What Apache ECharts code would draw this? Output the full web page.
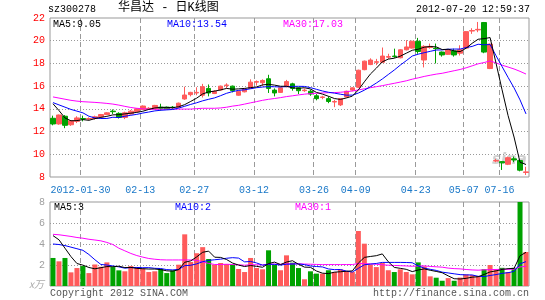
<!DOCTYPE html>
<html><head><meta charset="utf-8">
<script src="https://cdn.jsdelivr.net/npm/echarts@6/dist/echarts.min.js"></script>
<style>html,body{margin:0;padding:0;background:#fff}#c{width:545px;height:300px}</style>
</head><body><div id="c"></div>
<script>
// ---- data ----
const dates = [
 '2012-01-16','2012-01-17','2012-01-18','2012-01-19','2012-01-20',
 '2012-01-30','2012-01-31','2012-02-01','2012-02-02','2012-02-03','2012-02-06','2012-02-07','2012-02-08','2012-02-09','2012-02-10',
 '2012-02-13','2012-02-14','2012-02-15','2012-02-16','2012-02-17','2012-02-20','2012-02-21','2012-02-22','2012-02-23',
 '2012-02-27','2012-02-28','2012-02-29','2012-03-01','2012-03-02','2012-03-05','2012-03-06','2012-03-07','2012-03-08','2012-03-09',
 '2012-03-12','2012-03-13','2012-03-14','2012-03-15','2012-03-16','2012-03-19','2012-03-20','2012-03-21','2012-03-22','2012-03-23',
 '2012-03-26','2012-03-27','2012-03-28','2012-03-29','2012-03-30','2012-04-05','2012-04-06',
 '2012-04-09','2012-04-10','2012-04-11','2012-04-12','2012-04-13','2012-04-16','2012-04-17','2012-04-18','2012-04-19','2012-04-20',
 '2012-04-23','2012-04-24','2012-04-25','2012-04-26','2012-04-27','2012-05-02','2012-05-03','2012-05-04',
 '2012-05-07','2012-05-08','2012-05-09','2012-05-10','2012-05-11',
 '2012-07-13',
 '2012-07-16','2012-07-17','2012-07-18','2012-07-19','2012-07-20'
];
const opens  = [13.17,12.67,13.35,12.6,12.9,13.15,13.1,13.15,13.3,13.5,13.8,13.6,13.25,13.55,13.75,13.95,14.0,14.0,14.15,14.15,
 14.15,14.15,14.87,15.25,15.4,15.2,15.8,15.35,15.66,16.05,16.0,15.2,15.5,15.8,16.35,16.3,16.65,15.65,15.45,15.95,
 16.2,15.85,15.6,15.55,15.15,15.0,14.9,14.6,14.35,15.05,15.65,15.9,17.45,17.9,18.1,18.1,18.55,18.65,18.5,19.2,
 19.35,19.95,18.3,19.4,19.35,19.0,18.8,19.1,18.9,19.35,20.85,20.95,21.6,17.55,9.4,9.35,9.12,9.6,9.45,8.4];
const closes = [12.67,13.46,12.55,12.95,13.2,13.1,13.15,13.3,13.5,13.65,13.75,13.25,13.65,13.8,14.0,14.25,14.05,14.3,14.05,14.0,
 14.1,14.5,15.22,15.45,15.45,15.95,15.4,15.55,16.0,16.1,15.6,15.55,15.75,16.35,16.4,16.5,15.8,15.4,15.85,16.4,
 15.8,15.6,15.65,15.3,14.9,15.05,14.65,14.65,14.9,15.55,15.85,17.4,18.2,18.3,18.15,18.65,18.6,18.6,19.2,19.45,
 19.95,19.05,19.5,19.5,19.3,18.75,19.2,18.75,19.2,20.8,20.9,21.0,19.0,19.7,9.45,9.25,9.7,9.5,8.6,8.45];
const lows   = [12.55,12.6,12.3,12.5,12.75,12.9,13.0,13.05,13.25,13.45,13.55,13.15,13.1,13.5,13.7,13.9,13.9,13.95,13.85,13.95,
 14.0,14.1,14.8,15.1,15.2,15.0,15.1,15.3,15.6,15.8,15.45,15.15,15.45,15.75,16.05,16.0,15.4,15.1,15.4,15.9,
 15.6,15.3,15.5,15.15,14.75,14.85,14.5,14.15,14.25,15.0,15.55,15.85,17.4,17.85,17.85,18.05,18.4,18.5,18.45,19.15,
 19.3,18.85,17.65,19.3,18.0,18.6,18.75,18.6,18.7,19.3,20.6,20.75,18.9,17.5,9.3,8.62,9.05,9.3,8.5,8.18];
const highs  = [13.4,13.5,13.45,13.0,13.35,13.4,13.25,13.4,13.55,13.7,13.95,13.7,13.75,13.9,14.05,14.3,14.15,14.35,14.45,14.2,
 14.25,14.55,15.95,15.5,15.9,16.2,16.15,15.65,16.05,16.25,16.05,15.6,15.8,16.6,16.5,16.6,17.0,15.8,15.9,16.55,
 16.3,15.9,15.8,15.7,15.3,15.15,15.1,14.8,14.95,15.6,15.9,17.45,18.25,18.45,18.4,19.4,18.85,19.3,19.25,20.05,
 20.0,20.25,19.6,19.75,19.75,19.05,19.25,19.3,19.6,20.85,21.1,21.65,21.65,19.75,9.6,9.4,9.8,9.8,9.5,8.9];
const volumes = [2.67,2.35,2.67,1.3,1.71,1.9,1.23,2.05,1.83,2.25,1.8,1.49,1.4,1.9,1.8,1.65,1.33,1.4,1.62,1.23,
 1.49,2.03,4.92,2.29,3.12,3.7,2.57,2.03,2.19,2.1,2.03,1.62,1.33,2.67,1.71,1.59,3.4,2.0,1.5,2.92,
 2.22,1.71,0.64,1.4,1.18,1.18,1.5,1.33,1.59,1.43,1.33,5.24,4.03,2.03,1.8,2.19,1.5,1.33,1.59,1.33,
 1.11,2.25,1.87,0.92,0.79,0.5,0.75,0.5,0.8,1.1,1.05,0.95,1.6,2.0,1.6,1.73,1.33,1.73,8.0,3.24];
// moving-average values at the left edge (history before the window)
const ma5Lead  = [14.45,13.85,13.2,12.95];
const ma10Lead = [14.55,14.35,14.15,13.95,13.8,13.65,13.35,13.2,13.15];
const ma30Lead = [15.05,14.95,14.85,14.75,14.68,14.63,14.6,14.57,14.53,14.48,14.42,14.33,14.22,14.12,14.05,14.0,13.97,13.96,13.96,13.97,
 13.98,13.98,13.98,13.98,14.02,14.05,14.05,14.05,14.08];
const vma5Lead  = [4.8,4.4,3.6,2.8];
const vma10Lead = [4.0,3.95,3.85,3.7,3.55,3.4,3.0,2.5,2.05];
const vma30Lead = [4.92,4.88,4.8,4.72,4.62,4.55,4.45,4.38,4.3,4.15,3.95,3.6,3.35,3.1,2.9,2.75,2.62,2.55,2.5,2.48,
 2.48,2.48,2.48,2.48,2.45,2.3,2.15,2.05,2.05];
const tickDates = ['2012-01-30','2012-02-13','2012-02-27','2012-03-12','2012-03-26','2012-04-09','2012-04-23','2012-05-07','2012-07-16'];
const tickLabels = ['2012-01-30','02-13','02-27','03-12','03-26','04-09','04-23','05-07','07-16'];
const priceTicks = [8,22,2];
const volTicks = [0,8,2];
const maLabels = ['MA5:9.05','MA10:13.54','MA30:17.03'];
const volMaLabels = ['MA5:3','MA10:2','MA30:1'];
const headerTexts = ['sz300278','华昌达 - 日K线图','2012-07-20 12:59:37'];
const footerTexts = ['Copyright 2012 SINA.COM','http://finance.sina.com.cn','x万'];

// ---- build ----
function movingAvg(vals, n, lead){
  return vals.map((v,i)=>{
    if(i < n-1) return lead[i];
    let s=0; for(let k=i-n+1;k<=i;k++) s+=vals[k];
    return +(s/n).toFixed(3);
  });
}
const RED='#ff5b5b', GREEN='#00a200';
const tickIdx = tickDates.map(d=>dates.indexOf(d));
const tickSet = new Set(tickIdx);
const labelMap = {}; tickDates.forEach((d,i)=>labelMap[d]=tickLabels[i]);
const kData = dates.map((d,i)=>[opens[i],closes[i],lows[i],highs[i]]);
const volData = volumes.map((v,i)=>({value:v,itemStyle:{color: closes[i]>=opens[i]?RED:GREEN}}));
const MONO='"Liberation Mono","DejaVu Sans Mono",monospace';

function hSplit(){ return {show:true, showMinLine:false, showMaxLine:false, lineStyle:{color:'#999', width:1, type:[1,2]}}; }

function lineSeries(name, data, color, xi){
  return {name, type:'line', data, xAxisIndex:xi, yAxisIndex:xi, symbol:'none', smooth:false,
    lineStyle:{color, width:1}, itemStyle:{color}, silent:true, z:5};
}

const chart = echarts.init(document.getElementById('c'));
chart.setOption({
  animation:false,
  backgroundColor:'#fff',
  grid:[
    {left:50, top:18, width:479, height:159, show:true, borderColor:'#999', borderWidth:1},
    {left:50, top:202, width:479, height:84, show:true, borderColor:'#999', borderWidth:1}
  ],
  xAxis:[
    {type:'category', gridIndex:0, data:dates, boundaryGap:true,
     axisLine:{show:false}, axisTick:{show:false},
     axisLabel:{interval:(i)=>tickSet.has(i), formatter:(v)=>labelMap[v]||'', color:'#1a78c8',
       fontFamily:MONO, fontSize:10, margin:8, padding:[0,5,0,0]},
     splitLine:{show:false}},
    {type:'category', gridIndex:1, data:dates, boundaryGap:true,
     axisLine:{show:false}, axisTick:{show:false}, axisLabel:{show:false}, splitLine:{show:false}}
  ],
  yAxis:[
    {type:'value', gridIndex:0, min:priceTicks[0], max:priceTicks[1], interval:priceTicks[2],
     axisLine:{show:false}, axisTick:{show:false},
     axisLabel:{color:'#ff0000', fontFamily:MONO, fontSize:10, margin:5},
     splitLine:hSplit()},
    {type:'value', gridIndex:1, min:volTicks[0], max:volTicks[1], interval:volTicks[2],
     axisLine:{show:false}, axisTick:{show:false},
     axisLabel:{color:'#a0a0a0', fontFamily:MONO, fontSize:10, margin:5, formatter:(v)=>v===0?'':String(v)},
     splitLine:hSplit()}
  ],
  series:[
    {name:'K', type:'candlestick', data:kData, xAxisIndex:0, yAxisIndex:0, barWidth:5,
     itemStyle:{color:RED, color0:GREEN, borderColor:RED, borderColor0:GREEN, borderWidth:1}, z:3},
    lineSeries('MA30', movingAvg(closes,30,ma30Lead), '#ff00ff', 0),
    lineSeries('MA10', movingAvg(closes,10,ma10Lead), '#0000ff', 0),
    lineSeries('MA5', movingAvg(closes,5,ma5Lead), '#000000', 0),
    {name:'VOL', type:'bar', data:volData, xAxisIndex:1, yAxisIndex:1, barWidth:5, z:3},
    lineSeries('VMA30', movingAvg(volumes,30,vma30Lead), '#ff00ff', 1),
    lineSeries('VMA10', movingAvg(volumes,10,vma10Lead), '#0000ff', 1),
    lineSeries('VMA5', movingAvg(volumes,5,vma5Lead), '#000000', 1)
  ]
});

const texts = [
  {type:'text', left:48, top:4, style:{text:headerTexts[0], font:'10px '+MONO, fill:'#000'}},
  {type:'text', left:118, top:2, style:{text:headerTexts[1], font:'12px "Liberation Mono","Noto Sans CJK SC"', fill:'#000'}},
  {type:'text', right:15, top:4, style:{text:headerTexts[2], font:'10px '+MONO, fill:'#000'}},
  {type:'text', left:53, top:19, style:{text:maLabels[0], font:'10px '+MONO, fill:'#000'}},
  {type:'text', left:167, top:19, style:{text:maLabels[1], font:'10px '+MONO, fill:'#0000ff'}},
  {type:'text', left:283, top:19, style:{text:maLabels[2], font:'10px '+MONO, fill:'#ff00ff'}},
  {type:'text', left:54, top:202, style:{text:volMaLabels[0], font:'10px '+MONO, fill:'#000'}},
  {type:'text', left:175, top:202, style:{text:volMaLabels[1], font:'10px '+MONO, fill:'#0000ff'}},
  {type:'text', left:295, top:202, style:{text:volMaLabels[2], font:'10px '+MONO, fill:'#ff00ff'}},
  {type:'text', left:50, top:288, style:{text:footerTexts[0], font:'10px '+MONO, fill:'#555'}},
  {type:'text', right:16, top:288, style:{text:footerTexts[1], font:'10px '+MONO, fill:'#555'}},
  {type:'text', left:29, top:279, style:{text:footerTexts[2], font:'italic 10px "Noto Sans CJK SC"', fill:'#aaa'}},
  {type:'text', left:492, top:153, style:{text:'sina', font:'italic bold 15px "DejaVu Sans"', fill:'rgba(170,170,170,0.55)'}}
];

// vertical dashed date lines at the left edge of each labelled day, positioned through the axes' own scales
const lines = [];
try {
  [[0, priceTicks], [1, volTicks]].forEach(([ax, t]) => {
    const band = chart.convertToPixel({xAxisIndex:ax}, dates[1]) - chart.convertToPixel({xAxisIndex:ax}, dates[0]);
    const yTop = chart.convertToPixel({yAxisIndex:ax}, t[1]);
    const yBot = chart.convertToPixel({yAxisIndex:ax}, t[0]);
    tickIdx.forEach(i => {
      const cx = chart.convertToPixel({xAxisIndex:ax}, dates[i]);
      const x = Math.round(cx - band/2) + 0.5;
      lines.push({type:'line', silent:true, shape:{x1:x, y1:yTop, x2:x, y2:yBot},
        style:{stroke:'#9a9a9a', lineWidth:1, lineDash:[5,3], fill:null}});
    });
  });
} catch (e) {}

chart.setOption({graphic: lines.concat(texts)});
</script></body></html>
